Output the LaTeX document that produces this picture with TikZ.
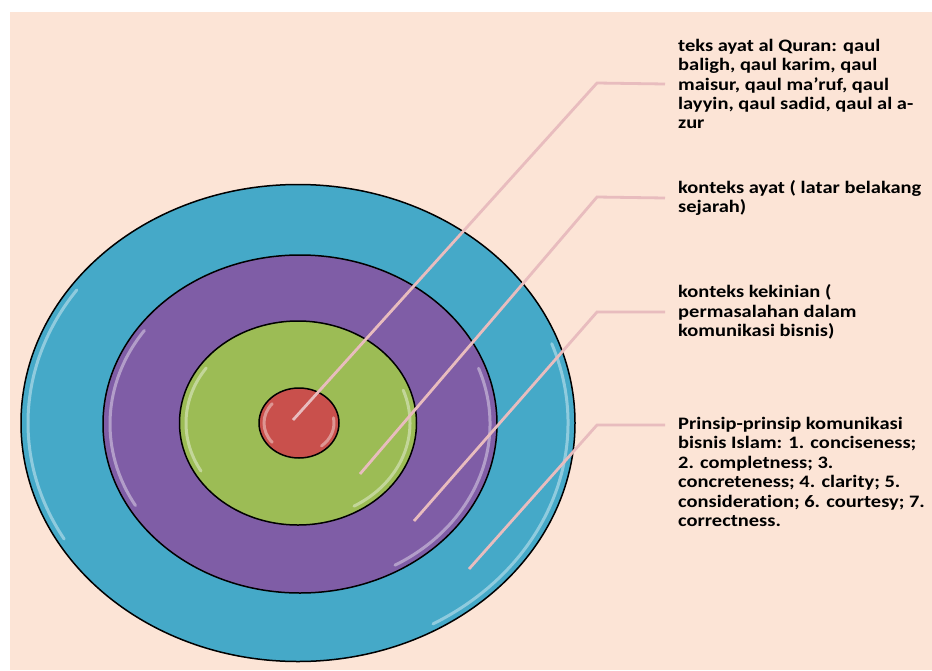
\documentclass[tikz,border=0pt]{standalone}
\usepackage{fontspec}
\setmainfont{Carlito}[FakeStretch=1.17,Ligatures={TeX,NoCommon}]
\usetikzlibrary{shapes.geometric}
\definecolor{peach}{HTML}{FCE4D6}
\definecolor{ringblue}{HTML}{45A9C8}
\definecolor{ringpurple}{HTML}{7F5DA6}
\definecolor{ringgreen}{HTML}{9CBC55}
\definecolor{ringred}{HTML}{C9504C}
\definecolor{leadpink}{HTML}{E8BCBE}
\tikzset{
	ring/.style={ellipse,draw=black,line width=1.5pt,inner sep=0pt},
	lbl/.style={anchor=west,align=left,inner xsep=13pt,inner ysep=0pt,font=\bfseries\fontsize{17.5}{19.4}\selectfont},
	leader/.style={draw=leadpink,line width=2.8pt},
	gloss/.style={white,opacity=0.4,line width=3pt,line cap=round}
}

\begin{document}
\begin{tikzpicture}[x=1pt,y=-1pt]
		\useasboundingbox (0,0) rectangle (932,670);
		\fill[white] (0,0) rectangle (932,670);
		\fill[peach] (10,12) rectangle (932,670);
		\node (blue) [ring,fill=ringblue,minimum width=554pt,minimum height=477pt] at (298,423) {};
		\node (purple) [ring,fill=ringpurple,minimum width=394pt,minimum height=338pt] at (300,424) {};
		\node (green) [ring,fill=ringgreen,minimum width=237pt,minimum height=204pt] at (298,423) {};
		\node (red) [ring,fill=ringred,minimum width=80pt,minimum height=70pt] at (299,423) {};
		\draw[gloss] ([shift={(-20:270 and 232)}]blue.center) arc[start angle=-20,end angle=60,x radius=270,y radius=232];
		\draw[gloss] ([shift={(150:270 and 232)}]blue.center) arc[start angle=150,end angle=215,x radius=270,y radius=232];
		\draw[gloss] ([shift={(-20:190 and 163)}]purple.center) arc[start angle=-20,end angle=60,x radius=190,y radius=163];
		\draw[gloss] ([shift={(150:190 and 163)}]purple.center) arc[start angle=150,end angle=215,x radius=190,y radius=163];
		\draw[gloss] ([shift={(-20:112 and 96)}]green.center) arc[start angle=-20,end angle=60,x radius=112,y radius=96];
		\draw[gloss] ([shift={(150:112 and 96)}]green.center) arc[start angle=150,end angle=215,x radius=112,y radius=96];
		\draw[gloss] ([shift={(-10:35 and 30)}]red.center) arc[start angle=-10,end angle=50,x radius=35,y radius=30];
		\draw[gloss] ([shift={(140:35 and 30)}]red.center) arc[start angle=140,end angle=220,x radius=35,y radius=30];
		\coordinate (p1) at (293,420);
		\coordinate (p2) at (360,474);
		\coordinate (p3) at (414,521);
		\coordinate (p4) at (469,569);
		\coordinate (k1) at (597,83);
		\coordinate (k2) at (597,197);
		\coordinate (k3) at (597,312);
		\coordinate (k4) at (597,425);
		\node (t1) [lbl] at (665,84) {teks ayat al Quran: qaul\\baligh, qaul karim, qaul\\maisur, qaul ma'ruf, qaul\\layyin, qaul sadid, qaul al a-\\zur};
		\node (t2) [lbl] at (665,198) {konteks ayat ( latar belakang\\sejarah)};
		\node (t3) [lbl] at (665,312) {konteks kekinian (\\permasalahan dalam\\komunikasi bisnis)};
		\node (t4) [lbl] at (665,472) {Prinsip-prinsip komunikasi\\bisnis Islam: 1. conciseness;\\2. completness; 3.\\concreteness; 4. clarity; 5.\\consideration; 6. courtesy; 7.\\correctness.};
		\draw[leader] (t1.west) -- (k1) -- (p1);
		\draw[leader] (t2.west) -- (k2) -- (p2);
		\draw[leader] (t3.west) -- (k3) -- (p3);
		\draw[leader] (t4.west |- k4) -- (k4) -- (p4);
	\end{tikzpicture}
\end{document}
